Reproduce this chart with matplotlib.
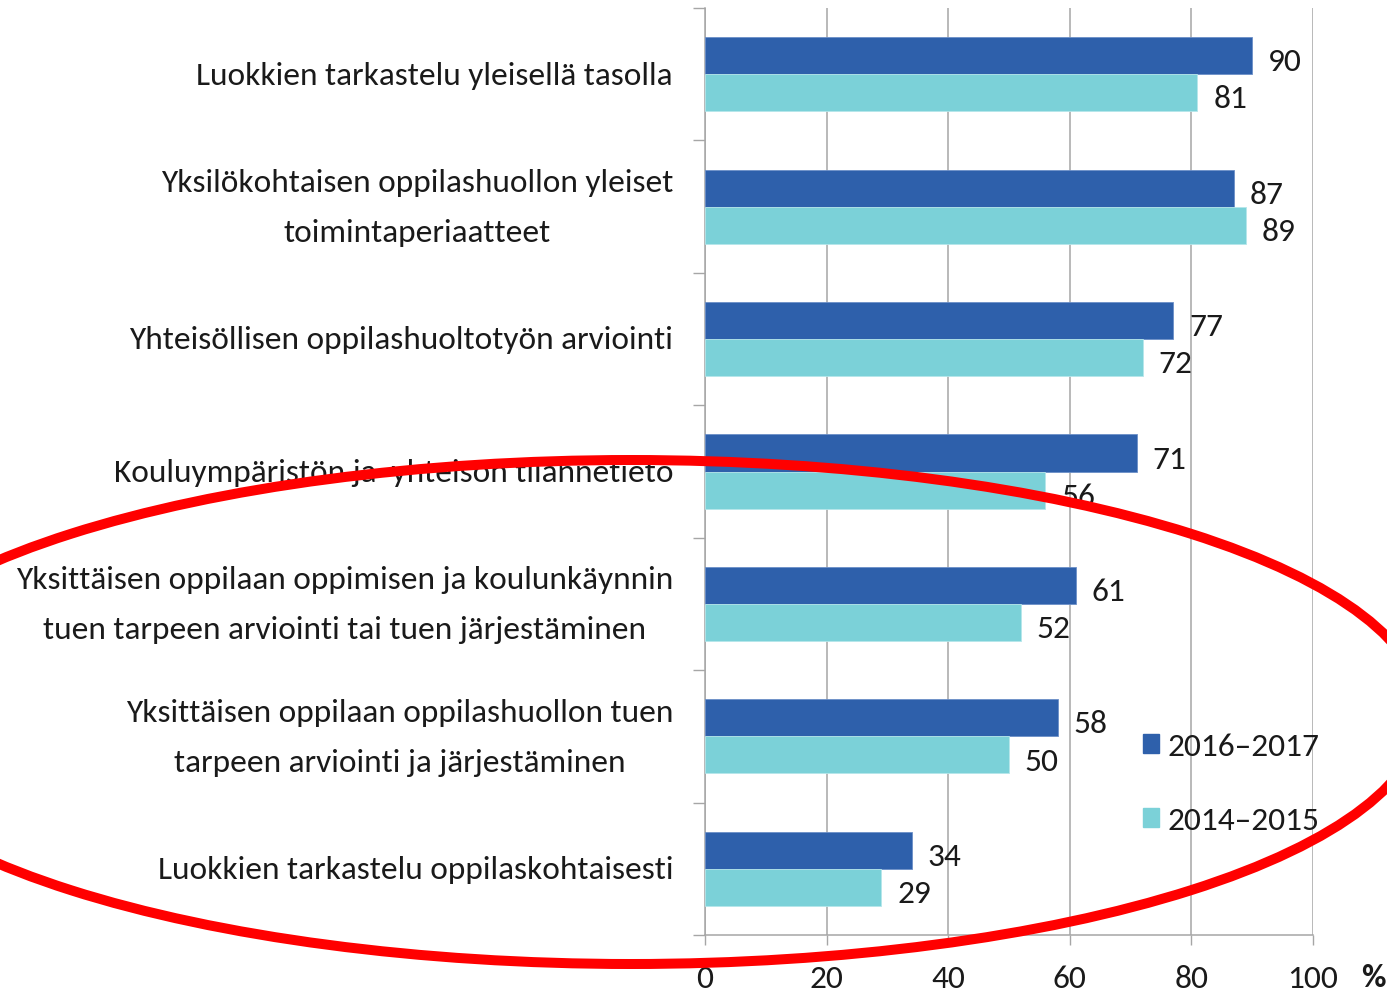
import matplotlib
matplotlib.use("Agg")
import matplotlib.pyplot as plt
from matplotlib.patches import Patch, Ellipse

categories = [
    "Luokkien tarkastelu yleisellä tasolla",
    "Yksilökohtaisen oppilashuollon yleiset\ntoimintaperiaatteet",
    "Yhteisöllisen oppilashuoltotyön arviointi",
    "Kouluympäristön ja  yhteisön tilannetieto",
    "Yksittäisen oppilaan oppimisen ja koulunkäynnin\ntuen tarpeen arviointi tai tuen järjestäminen",
    "Yksittäisen oppilaan oppilashuollon tuen\ntarpeen arviointi ja järjestäminen",
    "Luokkien tarkastelu oppilaskohtaisesti",
]
v_2016_2017 = [90, 87, 77, 71, 61, 58, 34]
v_2014_2015 = [81, 89, 72, 56, 52, 50, 29]
series_labels = ["2016–2017", "2014–2015"]
xticks = [0, 20, 40, 60, 80, 100]

plt.rcParams["font.family"] = ["Carlito", "DejaVu Sans"]

dark = "#2E60AB"
light = "#7BD1D8"
grid_c = "#A6A6A6"
txt = "#1A1A1A"

W, H = 1387, 992
fig = plt.figure(figsize=(W / 100, H / 100), dpi=100)
ax_w = 1313 - 705
ax = fig.add_axes([705 / W, 1 - 935 / H, ax_w / W, (935 - 8) / H])

n = len(categories)
ys = list(range(n))
h = 0.28
ax.barh([y - h / 2 for y in ys], v_2016_2017, height=h, color=dark,
        edgecolor="#6C8FC8", linewidth=0.6, zorder=3)
ax.barh([y + h / 2 for y in ys], v_2014_2015, height=h, color=light,
        edgecolor="#B5E6EA", linewidth=0.6, zorder=3)

fs = 24
for y, v in zip(ys, v_2016_2017):
    ax.text(v + 2.6, y - h / 2 + 0.05, str(v), va="center", ha="left",
            fontsize=fs, color=txt, zorder=4)
for y, v in zip(ys, v_2014_2015):
    ax.text(v + 2.6, y + h / 2 + 0.05, str(v), va="center", ha="left",
            fontsize=fs, color=txt, zorder=4)

ax.set_xlim(0, 100)
ax.set_ylim(n - 0.5, -0.5)
ax.set_xticks(xticks)
ax.set_xticklabels([str(t) for t in xticks], fontsize=fs, color=txt)
ax.tick_params(axis="x", direction="out", length=7.5, width=1, color=grid_c, pad=14)
ax.xaxis.grid(True, color=grid_c, linewidth=1.1, zorder=0)

ax.set_yticks([i - 0.5 for i in range(n + 1)])
ax.set_yticklabels([])
ax.tick_params(axis="y", which="major", direction="out", length=9, width=1, color=grid_c)

# category labels
ytrans = ax.get_yaxis_transform()
for y, lab in zip(ys, categories):
    ax.text(-32 / ax_w, y + 0.01, lab, transform=ytrans,
            ha="right", va="center", multialignment="center",
            linespacing=1.97, fontsize=fs, color=txt)

for s in ["top", "right"]:
    ax.spines[s].set_visible(False)
for s in ["left", "bottom"]:
    ax.spines[s].set_color(grid_c)
    ax.spines[s].set_linewidth(1.1)
ax.set_axisbelow(True)

fig.text(1373 / W, 1 - 978 / H, "%", fontsize=fs, fontweight="bold",
         ha="center", va="center", color=txt)

handles = [Patch(facecolor=dark, edgecolor=dark), Patch(facecolor=light, edgecolor=light)]
leg = ax.legend(handles, series_labels, loc="upper left",
                bbox_to_anchor=(1126 / W, 1 - 716 / H), bbox_transform=fig.transFigure,
                frameon=False, fontsize=fs, handlelength=0.5, handleheight=0.5,
                handletextpad=0.25, labelspacing=1.38, borderpad=0)
for t in leg.get_texts():
    t.set_color(txt)

ell = Ellipse((631 / W, 1 - 712 / H), width=2 * 792 / W, height=2 * 252 / H,
              transform=fig.transFigure, fill=False, edgecolor="#FF0000",
              linewidth=7.2, zorder=10, clip_on=False)
fig.add_artist(ell)

fig.savefig("out.png", dpi=100)
